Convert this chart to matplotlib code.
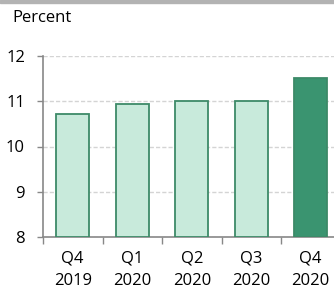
import matplotlib.pyplot as plt
from matplotlib.patches import Rectangle

plt.rcParams['font.family'] = ['Open Sans', 'DejaVu Sans']

quarters = ['Q4\n2019', 'Q1\n2020', 'Q2\n2020', 'Q3\n2020', 'Q4\n2020']
values = [10.72, 10.93, 11.0, 11.0, 11.52]
light = '#c8eadb'
dark = '#3a9470'
edge = '#3d8a68'

fig = plt.figure(figsize=(3.34, 2.93), dpi=100)
ax = fig.add_axes([43 / 334, 1 - 237 / 293, 297.5 / 334, 181 / 293])

x = list(range(len(values)))
colors = [light] * (len(values) - 1) + [dark]
ax.bar(x, [v - 8 for v in values], bottom=8, width=0.55, color=colors,
       edgecolor=edge, linewidth=1.3, zorder=3)

ax.set_ylim(8, 12)
ax.set_xlim(-0.5, 4.5)
ax.set_yticks([8, 9, 10, 11, 12])
ax.set_xticks(x)
ax.set_xticklabels(quarters, linespacing=1.55)
ax.set_xticks([i - 0.5 for i in range(len(values))], minor=True)
ax.tick_params(axis='x', which='major', length=0, pad=10, labelsize=12)
ax.tick_params(axis='x', which='minor', length=5, color='#888888', width=1)
ax.tick_params(axis='y', length=4, color='#888888', width=1, labelsize=12, pad=9)

ax.grid(axis='y', color='#d4d4d4', linestyle=(0, (3, 1.5)), linewidth=1, zorder=0)
for s in ['top', 'right']:
    ax.spines[s].set_visible(False)
for s in ['left', 'bottom']:
    ax.spines[s].set_color('#888888')
    ax.spines[s].set_linewidth(1.2)

fig.text(12 / 334, 1 - 18 / 293, 'Percent', fontsize=12, va='center', ha='left')
fig.patches.append(Rectangle((0, 1 - 3 / 293), 1, 3 / 293, transform=fig.transFigure,
                             color='#b3b3b3', zorder=5))

fig.savefig('out.png', dpi=100)
